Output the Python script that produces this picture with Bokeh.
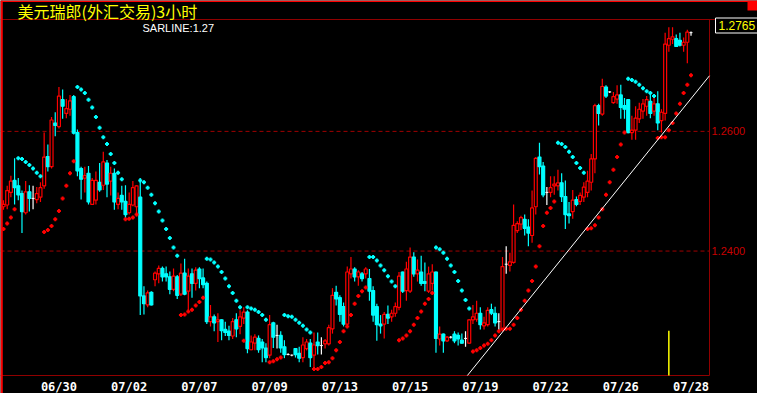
from bokeh.plotting import figure
from bokeh.models import ColumnDataSource, Range1d, Label, BoxAnnotation
from bokeh.embed import file_html
from bokeh.resources import INLINE

# ---------------- data ----------------
title_text = "美元瑞郎(外汇交易)3小时"
date_labels = ["06/30", "07/02", "07/07", "07/09", "07/13",
               "07/15", "07/19", "07/22", "07/26", "07/28"]
date_bars = [15, 34, 53, 72, 91, 110, 129, 148, 167, 186]
price_ticks = [1.26, 1.24]

opens = [
    1.2474, 1.2477, 1.2498, 1.2518, 1.2509, 1.2496, 1.2464, 1.2499, 1.2488, 1.2486,
    1.2490, 1.2509, 1.2558, 1.2541, 1.2614, 1.2608, 1.2653, 1.2630, 1.2637, 1.2658,
    1.2598, 1.2538, 1.2522, 1.2530, 1.2478, 1.2485, 1.2515, 1.2510, 1.2547, 1.2517,
    1.2530, 1.2478, 1.2493, 1.2483, 1.2464, 1.2477, 1.2474, 1.2490, 1.2325, 1.2310,
    1.2331, 1.2352, 1.2362, 1.2371, 1.2362, 1.2357, 1.2336, 1.2357, 1.2328, 1.2363,
    1.2333, 1.2362, 1.2346, 1.2370, 1.2355, 1.2346, 1.2282, 1.2290, 1.2282, 1.2285,
    1.2269, 1.2266, 1.2258, 1.2285, 1.2274, 1.2288, 1.2298, 1.2235, 1.2246, 1.2254,
    1.2248, 1.2238, 1.2226, 1.2280, 1.2259, 1.2259, 1.2240, 1.2227, 1.2226, 1.2237,
    1.2229, 1.2222, 1.2237, 1.2246, 1.2226, 1.2248, 1.2242, 1.2245, 1.2245, 1.2270,
    1.2331, 1.2322, 1.2307, 1.2278, 1.2362, 1.2370, 1.2357, 1.2362, 1.2362, 1.2354,
    1.2334, 1.2307, 1.2278, 1.2278, 1.2294, 1.2290, 1.2296, 1.2306, 1.2365, 1.2334,
    1.2333, 1.2390, 1.2362, 1.2365, 1.2349, 1.2333, 1.2346, 1.2365, 1.2253, 1.2261,
    1.2250, 1.2256, 1.2261, 1.2259, 1.2251, 1.2254, 1.2246, 1.2285, 1.2286, 1.2296,
    1.2275, 1.2277, 1.2302, 1.2296, 1.2282, 1.2269, 1.2378, 1.2376, 1.2381, 1.2434,
    1.2445, 1.2453, 1.2440, 1.2426, 1.2474, 1.2557, 1.2542, 1.2498, 1.2498, 1.2509,
    1.2509, 1.2514, 1.2491, 1.2462, 1.2466, 1.2486, 1.2483, 1.2490, 1.2498, 1.2515,
    1.2554, 1.2643, 1.2629, 1.2674, 1.2666, 1.2648, 1.2654, 1.2661, 1.2643, 1.2653,
    1.2598, 1.2602, 1.2621, 1.2634, 1.2642, 1.2650, 1.2634, 1.2646, 1.2618, 1.2630,
    1.2744, 1.2754, 1.2755, 1.2752, 1.2744, 1.2749, 1.2765,
]
highs = [
    1.2485, 1.2509, 1.2526, 1.2555, 1.2522, 1.2501, 1.2517, 1.2510, 1.2509, 1.2507,
    1.2515, 1.2598, 1.2578, 1.2624, 1.2632, 1.2674, 1.2670, 1.2654, 1.2661, 1.2661,
    1.2603, 1.2541, 1.2541, 1.2542, 1.2522, 1.2533, 1.2547, 1.2566, 1.2552, 1.2541,
    1.2538, 1.2498, 1.2509, 1.2510, 1.2498, 1.2517, 1.2510, 1.2522, 1.2341, 1.2334,
    1.2333, 1.2366, 1.2376, 1.2374, 1.2374, 1.2366, 1.2371, 1.2360, 1.2379, 1.2387,
    1.2371, 1.2371, 1.2373, 1.2373, 1.2371, 1.2349, 1.2310, 1.2294, 1.2296, 1.2286,
    1.2282, 1.2275, 1.2288, 1.2296, 1.2301, 1.2306, 1.2301, 1.2259, 1.2261, 1.2259,
    1.2253, 1.2246, 1.2293, 1.2282, 1.2277, 1.2266, 1.2251, 1.2229, 1.2227, 1.2238,
    1.2240, 1.2256, 1.2253, 1.2253, 1.2264, 1.2264, 1.2256, 1.2253, 1.2277, 1.2338,
    1.2342, 1.2326, 1.2314, 1.2374, 1.2390, 1.2373, 1.2368, 1.2365, 1.2373, 1.2370,
    1.2341, 1.2312, 1.2293, 1.2298, 1.2309, 1.2302, 1.2314, 1.2365, 1.2366, 1.2382,
    1.2406, 1.2398, 1.2386, 1.2392, 1.2381, 1.2374, 1.2378, 1.2366, 1.2274, 1.2262,
    1.2258, 1.2258, 1.2266, 1.2264, 1.2262, 1.2266, 1.2286, 1.2310, 1.2317, 1.2306,
    1.2290, 1.2306, 1.2312, 1.2307, 1.2296, 1.2390, 1.2408, 1.2397, 1.2478, 1.2450,
    1.2459, 1.2461, 1.2453, 1.2501, 1.2557, 1.2581, 1.2549, 1.2507, 1.2525, 1.2525,
    1.2536, 1.2530, 1.2518, 1.2482, 1.2502, 1.2491, 1.2498, 1.2515, 1.2534, 1.2562,
    1.2646, 1.2646, 1.2688, 1.2677, 1.2667, 1.2666, 1.2677, 1.2678, 1.2656, 1.2654,
    1.2626, 1.2642, 1.2648, 1.2654, 1.2659, 1.2666, 1.2661, 1.2667, 1.2637, 1.2765,
    1.2774, 1.2774, 1.2762, 1.2765, 1.2757, 1.2770, 1.2767,
]
lows = [
    1.2469, 1.2470, 1.2490, 1.2478, 1.2485, 1.2430, 1.2461, 1.2466, 1.2470, 1.2480,
    1.2482, 1.2504, 1.2533, 1.2538, 1.2592, 1.2605, 1.2621, 1.2622, 1.2626, 1.2595,
    1.2525, 1.2486, 1.2498, 1.2478, 1.2477, 1.2478, 1.2499, 1.2502, 1.2490, 1.2493,
    1.2469, 1.2470, 1.2469, 1.2454, 1.2461, 1.2475, 1.2458, 1.2293, 1.2294, 1.2306,
    1.2309, 1.2341, 1.2346, 1.2349, 1.2349, 1.2328, 1.2333, 1.2320, 1.2325, 1.2326,
    1.2301, 1.2322, 1.2334, 1.2338, 1.2338, 1.2278, 1.2274, 1.2266, 1.2248, 1.2251,
    1.2258, 1.2251, 1.2253, 1.2256, 1.2261, 1.2278, 1.2229, 1.2234, 1.2234, 1.2230,
    1.2214, 1.2214, 1.2221, 1.2238, 1.2237, 1.2230, 1.2221, 1.2226, 1.2224, 1.2222,
    1.2214, 1.2214, 1.2234, 1.2206, 1.2205, 1.2227, 1.2227, 1.2237, 1.2242, 1.2262,
    1.2309, 1.2282, 1.2274, 1.2277, 1.2354, 1.2349, 1.2342, 1.2349, 1.2354, 1.2317,
    1.2282, 1.2250, 1.2262, 1.2254, 1.2278, 1.2282, 1.2290, 1.2301, 1.2330, 1.2317,
    1.2330, 1.2357, 1.2349, 1.2342, 1.2333, 1.2330, 1.2334, 1.2230, 1.2242, 1.2230,
    1.2248, 1.2254, 1.2246, 1.2242, 1.2245, 1.2240, 1.2245, 1.2278, 1.2282, 1.2269,
    1.2269, 1.2274, 1.2293, 1.2274, 1.2266, 1.2266, 1.2362, 1.2366, 1.2379, 1.2430,
    1.2435, 1.2426, 1.2408, 1.2414, 1.2461, 1.2528, 1.2490, 1.2477, 1.2490, 1.2494,
    1.2501, 1.2482, 1.2437, 1.2446, 1.2454, 1.2475, 1.2477, 1.2482, 1.2490, 1.2501,
    1.2530, 1.2610, 1.2626, 1.2656, 1.2664, 1.2646, 1.2646, 1.2621, 1.2621, 1.2597,
    1.2586, 1.2586, 1.2614, 1.2621, 1.2626, 1.2622, 1.2626, 1.2602, 1.2598, 1.2618,
    1.2733, 1.2746, 1.2741, 1.2742, 1.2733, 1.2714, 1.2760,
]
closes = [
    1.2478, 1.2501, 1.2517, 1.2506, 1.2494, 1.2466, 1.2499, 1.2488, 1.2488, 1.2496,
    1.2506, 1.2557, 1.2541, 1.2619, 1.2610, 1.2659, 1.2642, 1.2638, 1.2651, 1.2597,
    1.2534, 1.2520, 1.2526, 1.2482, 1.2518, 1.2518, 1.2502, 1.2549, 1.2512, 1.2530,
    1.2482, 1.2488, 1.2482, 1.2461, 1.2478, 1.2506, 1.2509, 1.2325, 1.2312, 1.2330,
    1.2310, 1.2363, 1.2371, 1.2357, 1.2357, 1.2336, 1.2358, 1.2326, 1.2363, 1.2328,
    1.2358, 1.2346, 1.2368, 1.2354, 1.2344, 1.2282, 1.2290, 1.2280, 1.2285, 1.2267,
    1.2264, 1.2259, 1.2282, 1.2270, 1.2290, 1.2298, 1.2237, 1.2248, 1.2256, 1.2235,
    1.2238, 1.2222, 1.2277, 1.2256, 1.2259, 1.2238, 1.2227, 1.2227, 1.2226, 1.2227,
    1.2221, 1.2243, 1.2248, 1.2222, 1.2243, 1.2242, 1.2242, 1.2250, 1.2272, 1.2326,
    1.2320, 1.2294, 1.2278, 1.2365, 1.2370, 1.2357, 1.2365, 1.2354, 1.2370, 1.2333,
    1.2293, 1.2277, 1.2275, 1.2294, 1.2288, 1.2296, 1.2307, 1.2358, 1.2333, 1.2370,
    1.2390, 1.2362, 1.2368, 1.2346, 1.2346, 1.2362, 1.2365, 1.2254, 1.2261, 1.2250,
    1.2256, 1.2256, 1.2250, 1.2253, 1.2246, 1.2254, 1.2285, 1.2290, 1.2296, 1.2277,
    1.2280, 1.2301, 1.2296, 1.2280, 1.2282, 1.2374, 1.2378, 1.2382, 1.2443, 1.2446,
    1.2456, 1.2438, 1.2430, 1.2472, 1.2555, 1.2541, 1.2494, 1.2498, 1.2506, 1.2512,
    1.2514, 1.2491, 1.2461, 1.2459, 1.2485, 1.2478, 1.2493, 1.2507, 1.2517, 1.2554,
    1.2643, 1.2630, 1.2675, 1.2659, 1.2666, 1.2658, 1.2661, 1.2640, 1.2637, 1.2598,
    1.2602, 1.2622, 1.2637, 1.2646, 1.2653, 1.2630, 1.2646, 1.2614, 1.2632, 1.2746,
    1.2755, 1.2758, 1.2742, 1.2744, 1.2749, 1.2766, 1.2765,
]
sar = [
    1.2437, 1.2446, 1.2456, 1.2470, 1.2555, 1.2554, 1.2549, 1.2544, 1.2538, 1.2531,
    1.2525, 1.2432, 1.2435, 1.2442, 1.2453, 1.2467, 1.2488, 1.2509, 1.2530, 1.2550,
    1.2674, 1.2670, 1.2664, 1.2653, 1.2640, 1.2624, 1.2606, 1.2590, 1.2579, 1.2562,
    1.2547, 1.2531, 1.2520, 1.2453, 1.2454, 1.2456, 1.2461, 1.2518, 1.2515, 1.2506,
    1.2494, 1.2480, 1.2466, 1.2451, 1.2437, 1.2422, 1.2406, 1.2392, 1.2293, 1.2294,
    1.2299, 1.2302, 1.2309, 1.2315, 1.2322, 1.2387, 1.2386, 1.2381, 1.2374, 1.2365,
    1.2354, 1.2341, 1.2330, 1.2317, 1.2306, 1.2250, 1.2306, 1.2304, 1.2302, 1.2298,
    1.2293, 1.2285, 1.2214, 1.2216, 1.2219, 1.2222, 1.2293, 1.2291, 1.2290, 1.2285,
    1.2280, 1.2275, 1.2269, 1.2264, 1.2203, 1.2203, 1.2206, 1.2213, 1.2214, 1.2221,
    1.2234, 1.2248, 1.2266, 1.2274, 1.2293, 1.2312, 1.2325, 1.2333, 1.2339, 1.2390,
    1.2390, 1.2384, 1.2376, 1.2368, 1.2358, 1.2349, 1.2341, 1.2251, 1.2254, 1.2259,
    1.2266, 1.2277, 1.2288, 1.2299, 1.2312, 1.2320, 1.2330, 1.2406, 1.2403, 1.2397,
    1.2387, 1.2376, 1.2365, 1.2350, 1.2334, 1.2318, 1.2304, 1.2232, 1.2234, 1.2238,
    1.2242, 1.2245, 1.2251, 1.2259, 1.2266, 1.2269, 1.2270, 1.2270, 1.2277, 1.2288,
    1.2302, 1.2317, 1.2334, 1.2350, 1.2374, 1.2408, 1.2442, 1.2464, 1.2472, 1.2483,
    1.2581, 1.2579, 1.2574, 1.2566, 1.2557, 1.2547, 1.2539, 1.2531, 1.2437, 1.2438,
    1.2443, 1.2456, 1.2470, 1.2494, 1.2515, 1.2536, 1.2557, 1.2578, 1.2598, 1.2688,
    1.2686, 1.2683, 1.2678, 1.2672, 1.2667, 1.2664, 1.2659, 1.2589, 1.2590, 1.2590,
    1.2602, 1.2614, 1.2630, 1.2646, 1.2664, 1.2678, 1.2694,
]
trend_bars = [125.5, 191.0]
trend_prices = [1.2192, 1.2693]
marker_bar = 180
marker_top = 1.2267

# ---------------- layout ----------------
price_lo, price_hi = 1.2192, 1.2787      # price window of the chart panel
bar_lo, bar_hi = -0.81, 191.0            # bar window of the chart panel
W, H = 757, 393
TOP, BOTTOM, RIGHT = 19, 18, 48          # title strip, date strip, price strip (px)
PANEL_W = W - RIGHT
PANEL_H = H - TOP - BOTTOM
ppx = PANEL_W / (bar_hi - bar_lo)
ppy = PANEL_H / (price_hi - price_lo)
x_end = bar_hi + RIGHT / ppx
y_start = price_lo - BOTTOM / ppy
y_end = price_hi + TOP / ppy

UP, DOWN, FLAT = "#ff0000", "#00ffff", "#ffffff"
DARK_RED = "#a00000"

p = figure(width=W, height=H, output_backend="svg", toolbar_location=None,
           x_range=Range1d(bar_lo, x_end), y_range=Range1d(y_start, y_end),
           x_axis_location=None, y_axis_location=None,
           min_border=0, background_fill_color="black", border_fill_color="black")
p.outline_line_color = None
p.grid.visible = False

# horizontal price grid (dashed) across the chart panel
p.segment(x0=[bar_lo] * len(price_ticks), x1=[bar_hi] * len(price_ticks),
          y0=price_ticks, y1=price_ticks,
          line_color=DARK_RED, line_dash="4 3", line_width=1)

# panel borders
p.segment(x0=[bar_lo, bar_lo, bar_hi], x1=[x_end, bar_hi, bar_hi],
          y0=[price_hi, price_lo, price_lo], y1=[price_hi, price_lo, price_hi],
          line_color="#900000", line_width=1)

# price labels (right strip)
p.text(x=[bar_hi] * len(price_ticks), y=price_ticks,
       text=[f"{t:.4f}" for t in price_ticks], x_offset=2,
       text_color="#c80000", text_font={"value": "Liberation Sans"},
       text_font_size="11px", text_baseline="middle", text_align="left")

# date labels (bottom strip)
p.text(x=date_bars, y=[price_lo] * len(date_bars), text=date_labels, y_offset=4,
       text_color="white", text_font={"value": "DejaVu Sans Mono"},
       text_font_style="bold", text_font_size="12px",
       text_baseline="top", text_align="center")

# ---------------- candles ----------------
n = len(opens)
xs = list(range(n))
colors = [UP if c > o else DOWN if c < o else FLAT for o, c in zip(opens, closes)]
src = ColumnDataSource(dict(x=xs, h=highs, l=lows, color=colors))
p.segment(x0="x", y0="h", x1="x", y1="l", line_color="color", line_width=1.2, source=src)

bi = [i for i in xs if opens[i] != closes[i]]
body = ColumnDataSource(dict(
    x=bi,
    top=[max(opens[i], closes[i]) for i in bi],
    bot=[min(opens[i], closes[i]) for i in bi],
    color=[colors[i] for i in bi],
    fill=["black" if closes[i] > opens[i] else DOWN for i in bi],
))
p.vbar(x="x", width=0.8, top="top", bottom="bot", fill_color="fill",
       line_color="color", line_width=1.2, source=body)

di = [i for i in xs if opens[i] == closes[i]]
p.segment(x0=[i - 0.4 for i in di], y0=[opens[i] for i in di],
          x1=[i + 0.4 for i in di], y1=[opens[i] for i in di],
          line_color=FLAT, line_width=1)

# ---------------- SAR ----------------
sar_colors = [DOWN if s > c else UP for s, c in zip(sar, closes)]
p.scatter(x=xs, y=sar, marker="cross", size=4, line_width=2, line_color=sar_colors)

# trend line and yellow marker
p.line(trend_bars, trend_prices, line_color="white", line_width=1)
p.segment(x0=[marker_bar], y0=[price_lo], x1=[marker_bar], y1=[marker_top],
          line_color="#ffff00", line_width=1.5)

# red window edges
p.add_layout(BoxAnnotation(left=bar_lo, right=-0.2, bottom=y_start, top=y_end,
                           fill_color="#ff0000", fill_alpha=1.0, line_color=None))
p.add_layout(BoxAnnotation(left=bar_lo, right=x_end, bottom=y_end - 1.5 / ppy, top=y_end,
                           fill_color="#ff0000", fill_alpha=1.0, line_color=None))
p.add_layout(BoxAnnotation(left=x_end - 10 / ppx, right=x_end, bottom=y_end - 10 / ppy,
                           top=y_end, fill_color="#ff0000", fill_alpha=1.0, line_color=None))

# ---------------- texts ----------------
p.add_layout(Label(x=17, y=H + 2, x_units="screen", y_units="screen",
                   text=title_text, text_color="#ffff00",
                   text_font="Noto Sans CJK SC", text_font_size="16px",
                   text_baseline="top"))
p.add_layout(Label(x=142, y=H - 21, x_units="screen", y_units="screen",
                   text=f"SARLINE:{sar[-1]:.2f}", text_color="white",
                   text_font="Liberation Sans", text_font_size="11px",
                   text_baseline="top"))
p.add_layout(Label(x=PANEL_W + 6, y=H - 25, x_units="screen", y_units="screen",
                   text=f"{closes[-1]:.4f}", text_color="#ffff00",
                   text_font="Liberation Sans", text_font_size="12px",
                   text_baseline="middle", background_fill_color="black",
                   border_line_color="white", border_line_width=1, padding=3))

open("out.html", "w").write(file_html(p, INLINE))
